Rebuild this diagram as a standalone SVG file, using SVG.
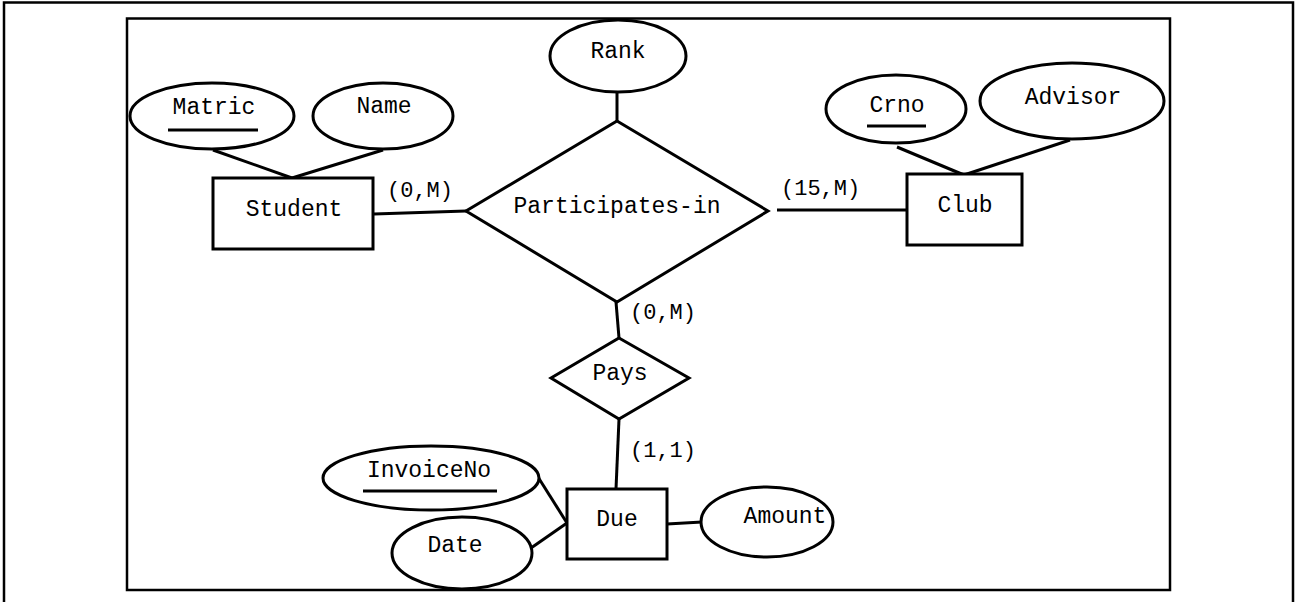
<svg xmlns="http://www.w3.org/2000/svg" width="1298" height="602" viewBox="0 0 1298 602">
<style>
.frame{fill:none;stroke:#000;stroke-width:2.5}
.shape{fill:#fff;stroke:#000;stroke-width:3}
.conn{fill:none;stroke:#000;stroke-width:3}
.ul{stroke:#000;stroke-width:3}
text{font-family:"Liberation Mono","Courier New",monospace;font-size:23px;fill:#000;text-anchor:middle}
.lbl{font-size:22px;text-anchor:start}
</style>
<rect width="1298" height="602" fill="#fff"/>
<path class="frame" d="M4,620 V2.5 H1293 V620"/>
<rect class="frame" x="127" y="18.5" width="1043" height="571.5"/>
<g id="connectors">
<line class="conn" x1="213" y1="150" x2="292" y2="178"/>
<line class="conn" x1="383" y1="150" x2="292" y2="178"/>
<line class="conn" x1="374" y1="214" x2="466" y2="211"/>
<line class="conn" x1="617" y1="92" x2="617" y2="121"/>
<line class="conn" x1="777" y1="210" x2="907" y2="210"/>
<line class="conn" x1="897" y1="147" x2="964" y2="175"/>
<line class="conn" x1="1070" y1="140" x2="964" y2="175"/>
<line class="conn" x1="616" y1="302" x2="619" y2="338"/>
<line class="conn" x1="619" y1="419" x2="616" y2="489"/>
<line class="conn" x1="538" y1="477" x2="567" y2="523"/>
<line class="conn" x1="531" y1="548" x2="567" y2="523"/>
<line class="conn" x1="667" y1="524" x2="702" y2="522"/>
<text class="lbl" x="387" y="197">(0,M)</text>
<text class="lbl" x="781" y="195">(15,M)</text>
<text class="lbl" x="630" y="319">(0,M)</text>
<text class="lbl" x="630" y="457">(1,1)</text>
</g>
<g id="matric">
<ellipse class="shape" cx="212" cy="116" rx="82" ry="33"/>
<text x="214" y="114">Matric</text>
<line class="ul" x1="168" y1="130" x2="258" y2="130"/>
</g>
<g id="name">
<ellipse class="shape" cx="383" cy="116" rx="70" ry="33"/>
<text x="384" y="113">Name</text>
</g>
<g id="student">
<rect class="shape" x="213" y="178" width="160" height="71"/>
<text x="294" y="216">Student</text>
</g>
<g id="rank">
<ellipse class="shape" cx="618" cy="56" rx="68" ry="36"/>
<text x="618" y="58">Rank</text>
</g>
<g id="participates">
<polygon class="shape" points="617,121 768,211 617,302 466,211"/>
<text x="617" y="213">Participates-in</text>
</g>
<g id="crno">
<ellipse class="shape" cx="896" cy="109" rx="70" ry="34"/>
<text x="897" y="112">Crno</text>
<line class="ul" x1="867" y1="126" x2="926" y2="126"/>
</g>
<g id="advisor">
<ellipse class="shape" cx="1072" cy="101" rx="92" ry="38"/>
<text x="1073" y="104">Advisor</text>
</g>
<g id="club">
<rect class="shape" x="907" y="174" width="115" height="71"/>
<text x="965" y="212">Club</text>
</g>
<g id="pays">
<polygon class="shape" points="619,338 689,378 619,419 551,378"/>
<text x="620" y="380">Pays</text>
</g>
<g id="due">
<rect class="shape" x="567" y="489" width="100" height="70"/>
<text x="617" y="526">Due</text>
</g>
<g id="invoiceno">
<ellipse class="shape" cx="431" cy="478" rx="108" ry="32"/>
<text x="429" y="477">InvoiceNo</text>
<line class="ul" x1="363" y1="491" x2="497" y2="491"/>
</g>
<g id="date">
<ellipse class="shape" cx="462" cy="553" rx="70" ry="36"/>
<text x="455" y="552">Date</text>
</g>
<g id="amount">
<ellipse class="shape" cx="767" cy="522" rx="66" ry="35"/>
<text x="785" y="523">Amount</text>
</g>
</svg>
